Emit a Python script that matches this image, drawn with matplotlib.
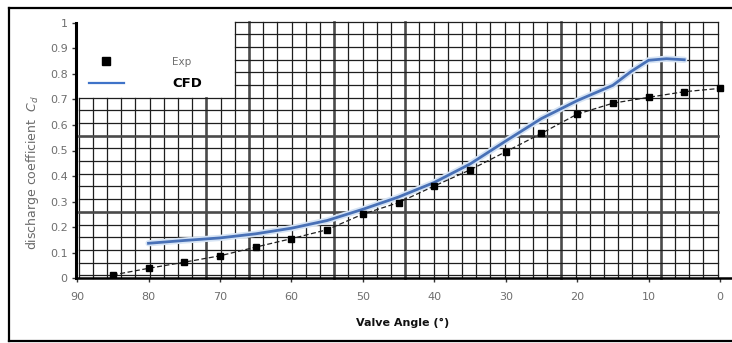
import numpy as np
import matplotlib
matplotlib.use("Agg")
import matplotlib.pyplot as plt
from matplotlib.lines import Line2D

# ---------- data ----------
exp_angle = [85, 80, 75, 70, 65, 60, 55, 50, 45, 40, 35, 30, 25, 20, 15, 10, 5, 0]
exp_cd = [0.013, 0.039, 0.063, 0.088, 0.122, 0.155, 0.190, 0.251, 0.296, 0.361,
          0.424, 0.495, 0.567, 0.642, 0.685, 0.708, 0.730, 0.743]

cfd_angle = [80, 75, 70, 65, 60, 55, 50, 45, 40, 35, 30, 25, 20, 15, 12.5, 10, 7.5, 5]
cfd_cd = [0.137, 0.148, 0.158, 0.174, 0.196, 0.226, 0.270, 0.318, 0.375, 0.447,
          0.537, 0.625, 0.695, 0.755, 0.808, 0.853, 0.859, 0.855]

x_ticks = [90, 80, 70, 60, 50, 40, 30, 20, 10, 0]
y_ticks = [0, 0.1, 0.2, 0.3, 0.4, 0.5, 0.6, 0.7, 0.8, 0.9, 1]
y_tick_labels = ["0", "0.1", "0.2", "0.3", "0.4", "0.5", "0.6", "0.7", "0.8", "0.9", "1"]

# graph paper behind the chart (it is not aligned with the ticks)
paper_x0, paper_dx, paper_nx = 89.8, 1.988, 45
paper_y0, paper_dy, paper_ny = 1.004, 0.0496, 20
paper_notch_i, paper_notch_j = 11, 6     # legend corner left blank
thick_i = [9, 12, 18, 23, 34, 41]
thick_j = [9, 15]

W, H = 732, 343
fig = plt.figure(figsize=(W / 100, H / 100), dpi=100)
ax = fig.add_axes([76 / W, (H - 278.3) / H, (W - 76) / W, (278.3 - 22.7) / H])
ax.set_xlim(90.15, -1.68)
ax.set_ylim(0, 1)

# ---------- graph paper ----------
px = [paper_x0 - paper_dx * i for i in range(paper_nx + 1)]
py = [paper_y0 - paper_dy * j for j in range(paper_ny + 1)]
y_notch = py[paper_notch_j]
x_notch = px[paper_notch_i]
for i, x in enumerate(px):
    top = py[0] if i >= paper_notch_i else y_notch
    thick = i in thick_i
    ax.plot([x, x], [0, top], color="#4a4a4a" if thick else "#1e1e1e",
            lw=1.9 if thick else 0.9, clip_on=False, zorder=1)
for j, y in enumerate(py):
    left = px[0] if j >= paper_notch_j else x_notch
    thick = j in thick_j
    ax.plot([left, px[-1]], [y, y], color="#4a4a4a" if thick else "#1e1e1e",
            lw=1.9 if thick else 0.9, clip_on=False, zorder=1)

# ---------- series ----------
ax.plot(cfd_angle, cfd_cd, color="#d6e4f5", lw=4.5, zorder=3, solid_capstyle="round")
ax.plot(cfd_angle, cfd_cd, color="#4870b6", lw=2.0, zorder=4)
ax.plot(exp_angle, exp_cd, color="#202020", lw=0.9, ls=(0, (4, 2)), zorder=4)
ax.plot(exp_angle, exp_cd, "s", color="black", ms=5.0, zorder=5)

# ---------- axes styling ----------
for s in ["top", "right"]:
    ax.spines[s].set_visible(False)
ax.spines["left"].set_linewidth(2.2)
ax.spines["bottom"].set_linewidth(1.8)
ax.spines["left"].set_zorder(6)
ax.spines["bottom"].set_zorder(6)
ax.set_xticks(x_ticks)
ax.set_yticks(y_ticks)
ax.set_yticklabels(y_tick_labels)
ax.tick_params(axis="both", direction="out", length=3, width=1, labelsize=8,
               labelcolor="#6e6e6e", color="#333333")
ax.tick_params(axis="x", pad=7)
ax.tick_params(axis="y", pad=3)

ax.set_xlabel("Valve Angle (°)", fontsize=8, fontweight="bold", color="#111111")
ax.xaxis.set_label_coords(0.4985, -0.175)
ax.xaxis.label.set_va("center")
ax.set_ylabel("discharge coefficient  $C_d$", fontsize=9, color="#6a6a6a")
ax.yaxis.set_label_coords(-0.067, 0.412)
ax.yaxis.label.set_va("center")

# ---------- legend ----------
handles = [Line2D([], [], ls="none", marker="s", color="black", ms=6),
           Line2D([], [], color="#3f73c8", lw=1.6)]
leg = ax.legend(handles, ["Exp", "CFD"], loc="upper left", frameon=False,
                bbox_to_anchor=(0.012, 0.885), fontsize=8.5, handlelength=3.0,
                handletextpad=4.1, labelspacing=0.85, borderaxespad=0)
leg.get_texts()[0].set_color("#707070")
leg.get_texts()[0].set_fontsize(7.5)
leg.get_texts()[1].set_fontweight("bold")
leg.get_texts()[1].set_fontsize(9.5)
leg.set_zorder(7)

# ---------- scanned frame ----------
for xs, ys in [([9, W], [8, 8]), ([9, 9], [8, 341]), ([9, W], [341, 341])]:
    fig.add_artist(Line2D([x / W for x in xs], [1 - y / H for y in ys],
                          color="black", lw=1.6))

fig.savefig("out.png", dpi=100)
